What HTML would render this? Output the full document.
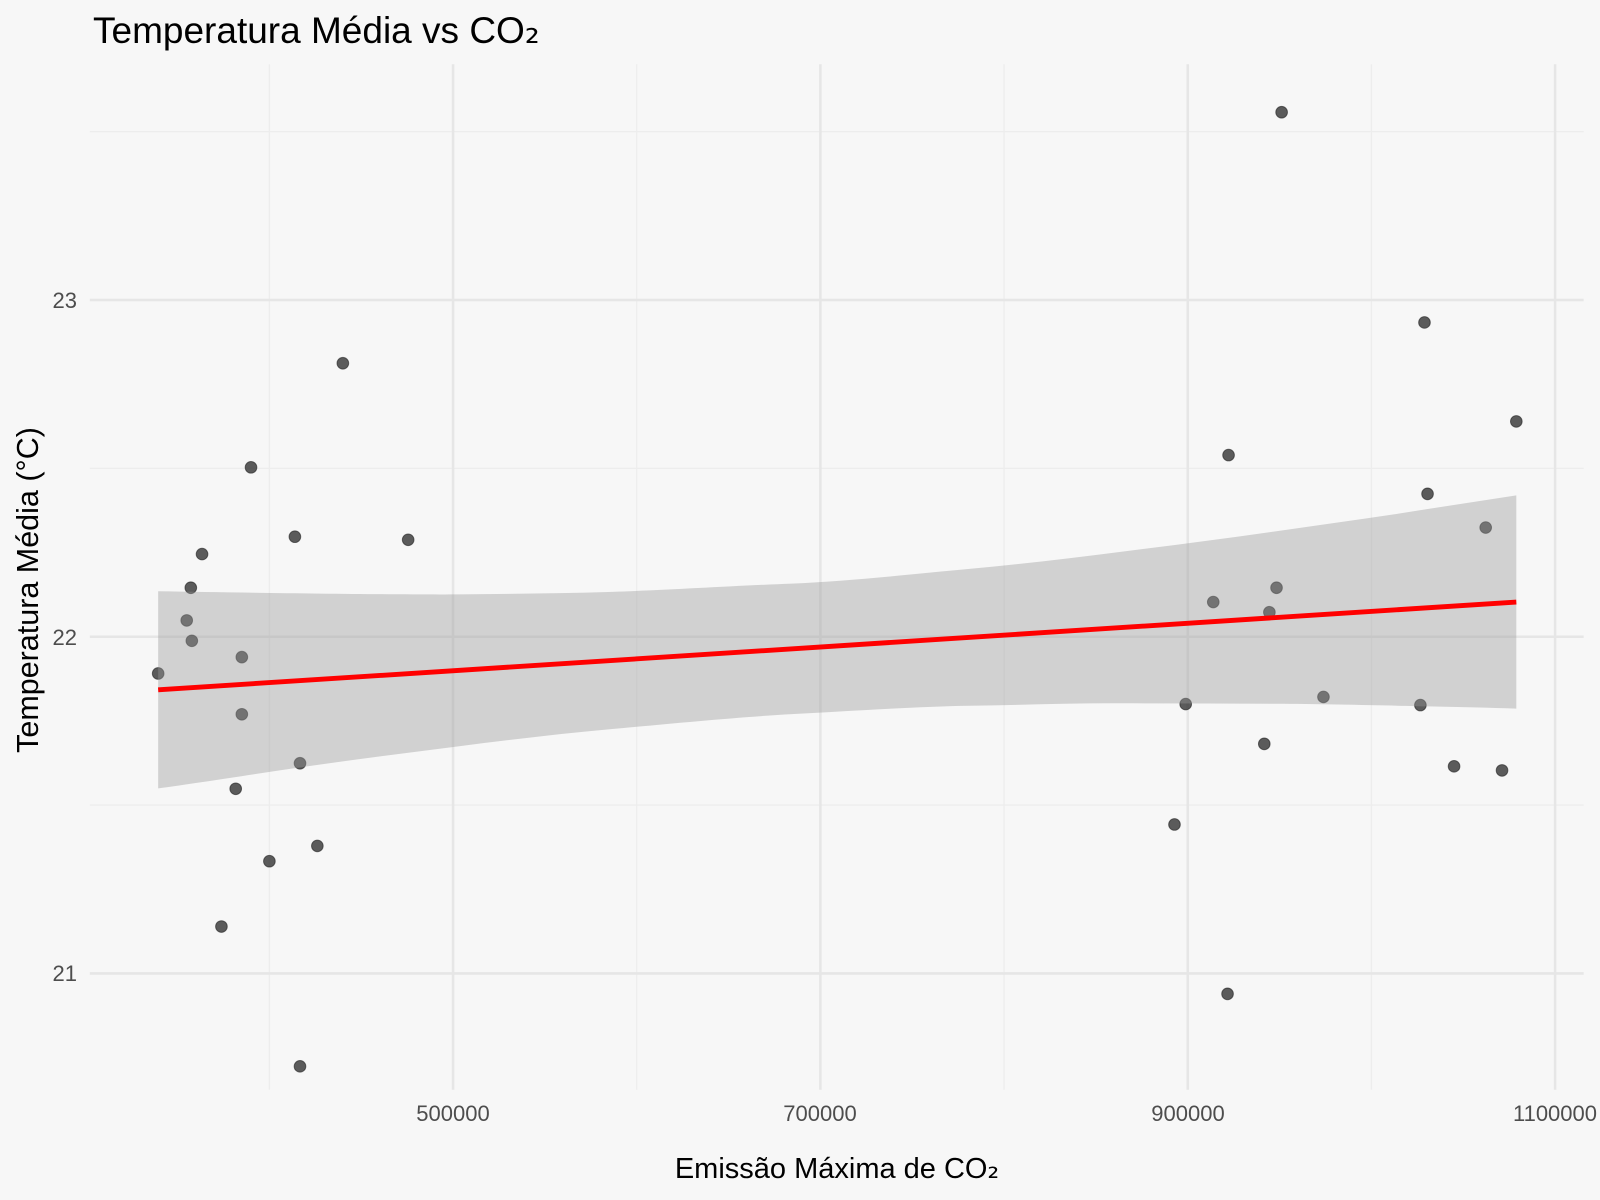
<!DOCTYPE html>
<html><head><meta charset="utf-8"><style>
html,body{margin:0;padding:0;background:#f7f7f7}
svg{display:block}
text{font-family:"Liberation Sans",Arial,sans-serif}
</style></head><body>
<svg width="1600" height="1200" viewBox="0 0 1600 1200" xmlns="http://www.w3.org/2000/svg">
<rect width="1600" height="1200" fill="#f7f7f7"/>
<g transform="scale(1.0204)">
<g stroke="#ededed" stroke-width="1.3">
<line x1="264" y1="63" x2="264" y2="1068"/><line x1="624" y1="63" x2="624" y2="1068"/>
<line x1="984" y1="63" x2="984" y2="1068"/><line x1="1344" y1="63" x2="1344" y2="1068"/>
<line x1="88" y1="129" x2="1552" y2="129"/><line x1="88" y1="459" x2="1552" y2="459"/><line x1="88" y1="789" x2="1552" y2="789"/>
</g>
<g stroke="#e6e6e6" stroke-width="2.5">
<line x1="444" y1="63" x2="444" y2="1068"/><line x1="804" y1="63" x2="804" y2="1068"/>
<line x1="1164" y1="63" x2="1164" y2="1068"/><line x1="1524" y1="63" x2="1524" y2="1068"/>
<line x1="88" y1="294" x2="1552" y2="294"/><line x1="88" y1="624" x2="1552" y2="624"/><line x1="88" y1="954" x2="1552" y2="954"/>
</g>
<g fill="#333" fill-opacity="0.8" stroke="#222" stroke-opacity="0.6" stroke-width="1">
<circle cx="155" cy="660" r="5.7"/><circle cx="183" cy="608" r="5.7"/><circle cx="187" cy="576" r="5.7"/>
<circle cx="188" cy="628" r="5.7"/><circle cx="198" cy="543" r="5.7"/><circle cx="217" cy="908" r="5.7"/>
<circle cx="231" cy="773" r="5.7"/><circle cx="237" cy="644" r="5.7"/><circle cx="237" cy="700" r="5.7"/>
<circle cx="246" cy="458" r="5.7"/><circle cx="264" cy="844" r="5.7"/><circle cx="289" cy="526" r="5.7"/>
<circle cx="294" cy="748" r="5.7"/><circle cx="294" cy="1045" r="5.7"/><circle cx="311" cy="829" r="5.7"/>
<circle cx="336" cy="356" r="5.7"/><circle cx="400" cy="529" r="5.7"/><circle cx="1151" cy="808" r="5.7"/>
<circle cx="1162" cy="690" r="5.7"/><circle cx="1189" cy="590" r="5.7"/><circle cx="1203" cy="974" r="5.7"/>
<circle cx="1204" cy="446" r="5.7"/><circle cx="1239" cy="729" r="5.7"/><circle cx="1244" cy="600" r="5.7"/>
<circle cx="1251" cy="576" r="5.7"/><circle cx="1256" cy="110" r="5.7"/><circle cx="1297" cy="683" r="5.7"/>
<circle cx="1392" cy="691" r="5.7"/><circle cx="1396" cy="316" r="5.7"/><circle cx="1399" cy="484" r="5.7"/>
<circle cx="1425" cy="751" r="5.7"/><circle cx="1456" cy="517" r="5.7"/><circle cx="1472" cy="755" r="5.7"/>
<circle cx="1486" cy="413" r="5.7"/>
</g>
<path d="M155,579.4 C250,581 400,583 450,582.5 S550,581.5 600,580 S720,574 776,571.9 S900,562 950,557.5 S1050,547 1100,540.6 S1200,528 1250,520.7 S1350,507 1400,498.7 L1486,485.5 L1486,694.5 C1460,693.5 1430,693 1400,692.3 S1300,690 1250,689.7 S1150,689.5 1100,689.2 S1000,691 950,691.7 S830,697 776,699.9 S650,710 600,714.4 S500,725 450,731.3 S350,744 300,751.2 S190,768 155,772.6 Z" fill="#999" fill-opacity="0.4"/>
<line x1="155" y1="676" x2="1486" y2="590" stroke="#ff0000" stroke-width="4.8"/>
</g>
<g fill="#4d4d4d" font-size="22">
<text x="453" y="1121" text-anchor="middle">500000</text><text x="820" y="1121" text-anchor="middle">700000</text>
<text x="1188" y="1121" text-anchor="middle">900000</text><text x="1555" y="1121" text-anchor="middle">1100000</text>
<text x="77" y="308" text-anchor="end">23</text><text x="77" y="645" text-anchor="end">22</text><text x="77" y="981" text-anchor="end">21</text>
</g>
<text x="837" y="1178" text-anchor="middle" font-size="29" fill="#000">Emissão Máxima de CO<tspan font-family="DejaVu Sans">₂</tspan></text>
<text transform="translate(38,590) rotate(-90)" text-anchor="middle" font-size="30.5" fill="#000">Temperatura Média (°C)</text>
<text x="93" y="43" font-size="37" fill="#000">Temperatura Média vs CO<tspan font-family="DejaVu Sans">₂</tspan></text>
</svg>
</body></html>
